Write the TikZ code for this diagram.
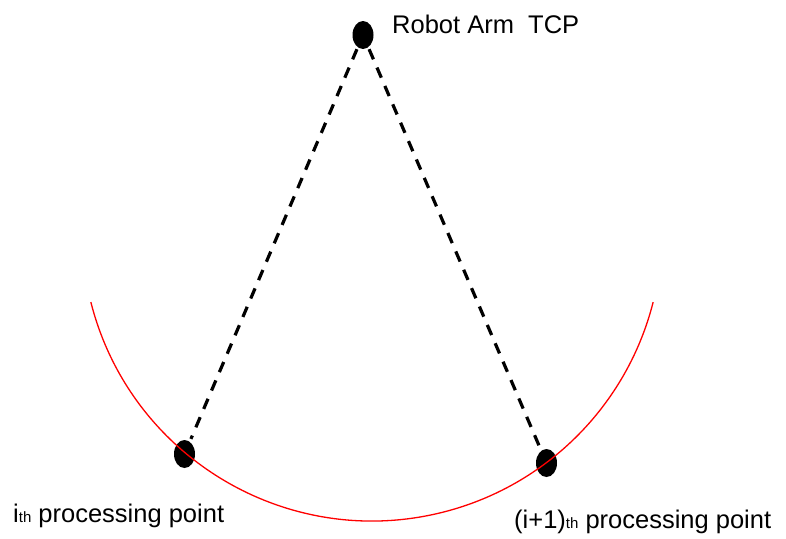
\documentclass[tikz,border=0pt]{standalone}
\usepackage{fontspec}
\setmainfont{Liberation Sans}
\usetikzlibrary{shapes.geometric}
\begin{document}
\begin{tikzpicture}[x=1pt,y=-1pt,
  dot/.style={ellipse,fill=black,inner sep=0pt,minimum width=21pt,minimum height=28pt},
  link/.style={line width=3.2pt,dash pattern=on 11pt off 9pt},
  lbl/.style={font=\fontsize{25.5}{30}\selectfont,inner sep=0pt,anchor=base west}]
\useasboundingbox (0,0) rectangle (786,538);
\node[dot] (tcp) at (363,35) {};
\node[dot] (pi) at (184.5,454) {};
\node[dot] (pj) at (546.5,463) {};
\draw[red,line width=1.3pt] (372,231) ++(165.8:290) arc[start angle=165.8,end angle=14.2,radius=290];
\draw[link,shorten <=2pt,shorten >=3pt] (tcp) -- (pi);
\draw[link,shorten <=2pt,shorten >=3pt] (tcp) -- (pj);
\node[lbl] (t1) at (392,33) {Robot Arm\ \ TCP};
\node[lbl] (t2) at (13,522) {i{\fontsize{15}{15}\selectfont th} processing point};
\node[lbl] (t3) at (514,528) {(i+1){\fontsize{15}{15}\selectfont th} processing point};
\end{tikzpicture}
\end{document}
